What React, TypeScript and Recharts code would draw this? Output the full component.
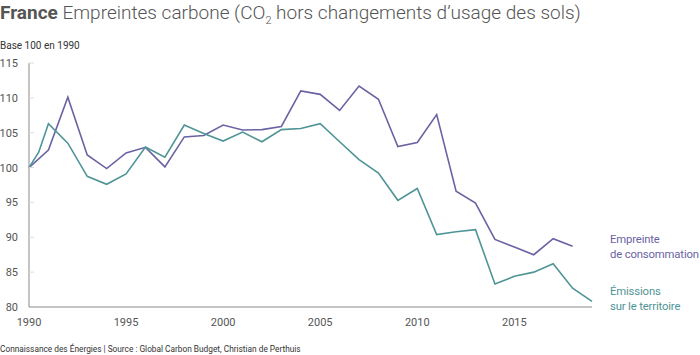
import React from "react";
import { LineChart, Line, XAxis, YAxis } from "recharts";

const years = [
  1990, 1991, 1992, 1993, 1994, 1995, 1996, 1997, 1998, 1999, 2000, 2001, 2002, 2003, 2004,
  2005, 2006, 2007, 2008, 2009, 2010, 2011, 2012, 2013, 2014, 2015, 2016, 2017, 2018, 2019,
];

// Empreinte de consommation (no value yet for 2019)
const consumption = [
  100, 102.5, 110.1, 101.8, 99.85, 102.1, 102.9, 100.1, 104.4, 104.6, 106.1, 105.4, 105.45, 105.9,
  111.0, 110.5, 108.2, 111.7, 109.8, 103.0, 103.6, 107.6, 96.6, 94.9, 89.7, 88.6, 87.5, 89.8, 88.7,
  null,
];

// Émissions sur le territoire
const territory = [
  100, 106.3, 103.5, 98.75, 97.6, 99.1, 102.95, 101.5, 106.1, 104.9, 103.8, 105.1, 103.7, 105.45,
  105.6, 106.3, 103.7, 101.15, 99.2, 95.3, 97.0, 90.4, 90.8, 91.1, 83.3, 84.4, 85.0, 86.2, 82.7,
  80.8,
];

// the territory series has one extra point mid-1990
const territoryExtra = { year: 1990.5, value: 102.2 };

const xTicks = [1990, 1995, 2000, 2005, 2010, 2015];
const yTicks = [80, 85, 90, 95, 100, 105, 110, 115];

const PURPLE = "#6a63a3";
const TEAL = "#4f9497";
const AXIS = "#8a8a8a";
const TEXT = "#555";

const rows = [
  ...years.map((year, i) => ({ year, consumption: consumption[i], territory: territory[i] })),
  { year: territoryExtra.year, consumption: null, territory: territoryExtra.value },
].sort((a, b) => a.year - b.year);

const LeftTick = (props: any) => {
  const { x, y, payload } = props;
  return (
    <g>
      <text x={x} y={y} dy={4} textAnchor="end" fill={TEXT} fontSize={11} fontFamily="Roboto">
        {payload.value}
      </text>
      {payload.value !== 80 && (
        <line x1={x + 11} x2={x + 16} y1={y} y2={y} stroke="#ddd" />
      )}
    </g>
  );
};

const RightTick = (props: any) => {
  const { x, y, payload } = props;
  if (payload.value === 80) return <g />;
  return <line x1={x - 5} x2={x} y1={y} y2={y} stroke="#ddd" />;
};

export default function App() {
  return (
    <div
      style={{
        position: "absolute",
        top: 0,
        left: 0,
        width: 700,
        height: 355,
        background: "#fff",
        fontFamily: "Roboto, sans-serif",
        overflow: "hidden",
      }}
    >
      <div
        style={{
          position: "absolute",
          top: 1,
          left: 0,
          fontSize: 19,
          lineHeight: "24px",
          color: TEXT,
          fontWeight: 300,
          whiteSpace: "nowrap",
        }}
      >
        <span style={{ fontWeight: 700 }}>France</span> Empreintes carbone (CO
        <sub style={{ fontSize: 11 }}>2</sub> hors changements d’usage des sols)
      </div>
      <div
        style={{
          position: "absolute",
          top: 40,
          left: 0,
          fontSize: 10,
          lineHeight: "12px",
          color: "#333",
        }}
      >
        Base 100 en 1990
      </div>

      <div style={{ position: "absolute", top: 0, left: 0 }}>
        <LineChart
          width={700}
          height={335}
          data={rows}
          margin={{ top: 63, right: 108, bottom: 0, left: 0 }}
        >
          <XAxis
            dataKey="year"
            type="number"
            domain={[1990, 2019]}
            ticks={xTicks}
            axisLine={{ stroke: AXIS }}
            tickLine={false}
            tickSize={0}
            tickMargin={11}
            height={28}
            tick={{ fill: TEXT, fontSize: 11, fontFamily: "Roboto" }}
          />
          <YAxis
            domain={[80, 115]}
            ticks={yTicks}
            width={29}
            axisLine={{ stroke: AXIS }}
            tickLine={false}
            tickSize={0}
            tickMargin={11}
            tick={<LeftTick />}
            interval={0}
          />
          <YAxis
            yAxisId="r"
            orientation="right"
            domain={[80, 115]}
            ticks={yTicks}
            width={0}
            axisLine={false}
            tickLine={false}
            tickSize={0}
            tickMargin={0}
            tick={<RightTick />}
            interval={0}
          />
          <Line
            dataKey="consumption"
            stroke={PURPLE}
            strokeWidth={1.6}
            dot={false}
            connectNulls
            isAnimationActive={false}
          />
          <Line
            dataKey="territory"
            stroke={TEAL}
            strokeWidth={1.6}
            dot={false}
            isAnimationActive={false}
          />
        </LineChart>
      </div>

      <div
        style={{
          position: "absolute",
          top: 232,
          left: 610,
          fontSize: 11.3,
          letterSpacing: -0.15,
          lineHeight: "15px",
          color: PURPLE,
          whiteSpace: "nowrap",
        }}
      >
        Empreinte
        <br />
        de consommation
      </div>
      <div
        style={{
          position: "absolute",
          top: 284,
          left: 610,
          fontSize: 11.3,
          letterSpacing: -0.15,
          lineHeight: "15px",
          color: TEAL,
          whiteSpace: "nowrap",
        }}
      >
        Émissions
        <br />
        sur le territoire
      </div>

      <div
        style={{
          position: "absolute",
          top: 344,
          left: 0,
          fontSize: 8.3,
          lineHeight: "11px",
          color: "#333",
          whiteSpace: "nowrap",
        }}
      >
        Connaissance des Énergies | Source : Global Carbon Budget, Christian de Perthuis
      </div>
    </div>
  );
}
